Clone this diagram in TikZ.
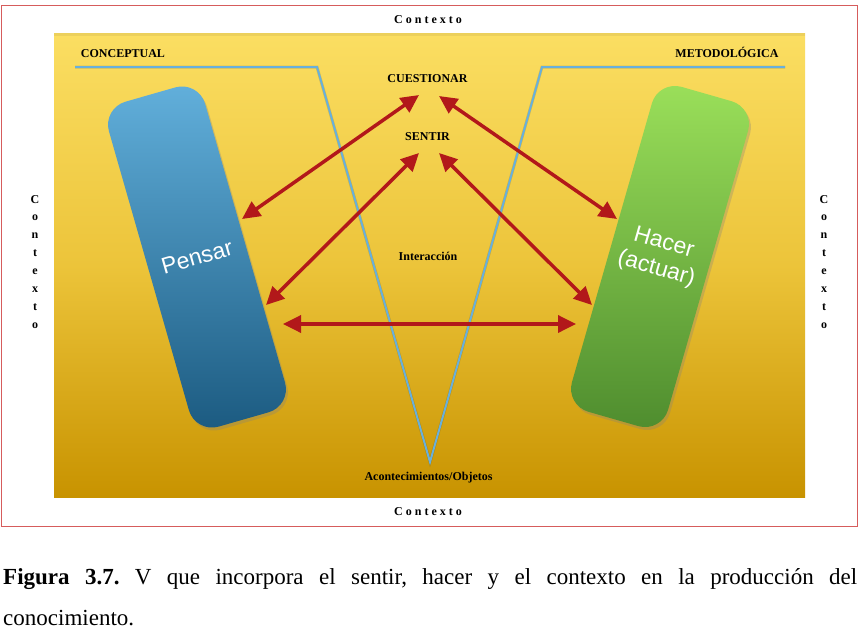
\documentclass[tikz,border=0pt]{standalone}
\usepackage{fontspec}
\setmainfont{Liberation Serif}
\newfontfamily\barfont{Liberation Sans}
\usetikzlibrary{arrows.meta,shadows}
\definecolor{framered}{RGB}{214,92,92}
\definecolor{ytop}{RGB}{251,222,98}
\definecolor{ymid}{RGB}{236,196,58}
\definecolor{ybot}{RGB}{200,147,0}
\definecolor{vblue}{RGB}{104,176,220}
\definecolor{arrred}{RGB}{178,24,26}
\definecolor{btop}{RGB}{98,176,220}
\definecolor{bbot}{RGB}{27,90,128}
\definecolor{gtop}{RGB}{155,224,90}
\definecolor{gbot}{RGB}{78,140,46}
\frenchspacing
\begin{document}
\begin{tikzpicture}[x=1pt,y=-1pt,
  lbl/.style={font=\bfseries\fontsize{12}{14}\selectfont, inner sep=0pt, anchor=base},
  ctx/.style={font=\bfseries\fontsize{12}{14}\selectfont, inner sep=0pt, anchor=base},
  bar/.style={draw=none, rounded corners=24pt, minimum width=100pt, minimum height=338pt,
    inner sep=0pt, text=white, font=\barfont\fontsize{23}{27}\selectfont, align=center,
    drop shadow={opacity=0.3,shadow xshift=2pt,shadow yshift=-3pt}},
  twoway/.style={draw=arrred, line width=3.5pt,
    {Triangle[length=18pt,width=17pt]}-{Triangle[length=18pt,width=17pt]}}
]
\useasboundingbox (0,0) rectangle (861,632);
\fill[white] (0,0) rectangle (861,632);
% outer frame
\draw[framered, line width=1pt] (1.5,5) rectangle (857.5,526.5);
% yellow panel
\fill[top color=ytop, bottom color=ybot, middle color=ymid] (54,33) rectangle (805,497);
\fill[black, opacity=0.06] (54,33) rectangle (805,36);
% context labels
\node[ctx] (ctop) at (428,23) {C o n t e x t o};
\node[ctx] (cbot) at (428,515) {C o n t e x t o};
\foreach \lt [count=\i] in {C,o,n,t,e,x,t,o} {
  \node[ctx] (cl\i) at (35,185.1+17.9*\i) {\lt};
  \node[ctx] (cr\i) at (824,185.1+17.9*\i) {\lt};
}
% V line
\coordinate (vl) at (75,67);
\coordinate (vtl) at (317,67);
\coordinate (vb) at (430,462);
\coordinate (vtr) at (542,67);
\coordinate (vr) at (785,67);
\draw[black, opacity=0.12, line width=3pt, shift={(1.5,2.5)}] (vl) -- (vtl) -- (vb) -- (vtr) -- (vr);
\draw[vblue, line width=2pt, line join=miter] (vl) -- (vtl) -- (vb) -- (vtr) -- (vr);
% labels
\node[lbl] (conc) at (123,57) {CONCEPTUAL};
\node[lbl] (meto) at (727,57) {METODOLÓGICA};
\node[lbl] (cues) at (427.5,82.5) {CUESTIONAR};
\node[lbl] (sent) at (427.5,140.5) {SENTIR};
\node[lbl] (inter) at (428,260.5) {Interacción};
\node[lbl] (acon) at (428.5,480.7) {Acontecimientos/Objetos};
% bars with their texts
\node[bar, rotate=16, top color=btop, bottom color=bbot] (pensar) at (197,257) {Pensar};
\node[bar, rotate=-16, top color=gtop, bottom color=gbot] (hacer) at (660,256.5) {Hacer\\(actuar)};
% arrow end points
\coordinate (cuL) at (419,95);
\coordinate (cuR) at (439,96);
\coordinate (seL) at (419,153);
\coordinate (seR) at (439,153);
\coordinate (pA) at (242,219);
\coordinate (pB) at (266,305);
\coordinate (pC) at (283,324);
\coordinate (hA) at (617,219);
\coordinate (hB) at (592,305);
\coordinate (hC) at (576,324);
\draw[twoway] (cuL) -- (pA);
\draw[twoway] (cuR) -- (hA);
\draw[twoway] (seL) -- (pB);
\draw[twoway] (seR) -- (hB);
\draw[twoway] (pC) -- (hC);
% caption
\node[anchor=north west, inner sep=0pt, text width=854pt, align=justify,
  font=\fontsize{23}{41}\selectfont] (cap) at (3,568)
  {\textbf{Figura 3.7.} V que incorpora el sentir, hacer y el contexto en la producción del\linebreak conocimiento.};
\end{tikzpicture}
\end{document}
